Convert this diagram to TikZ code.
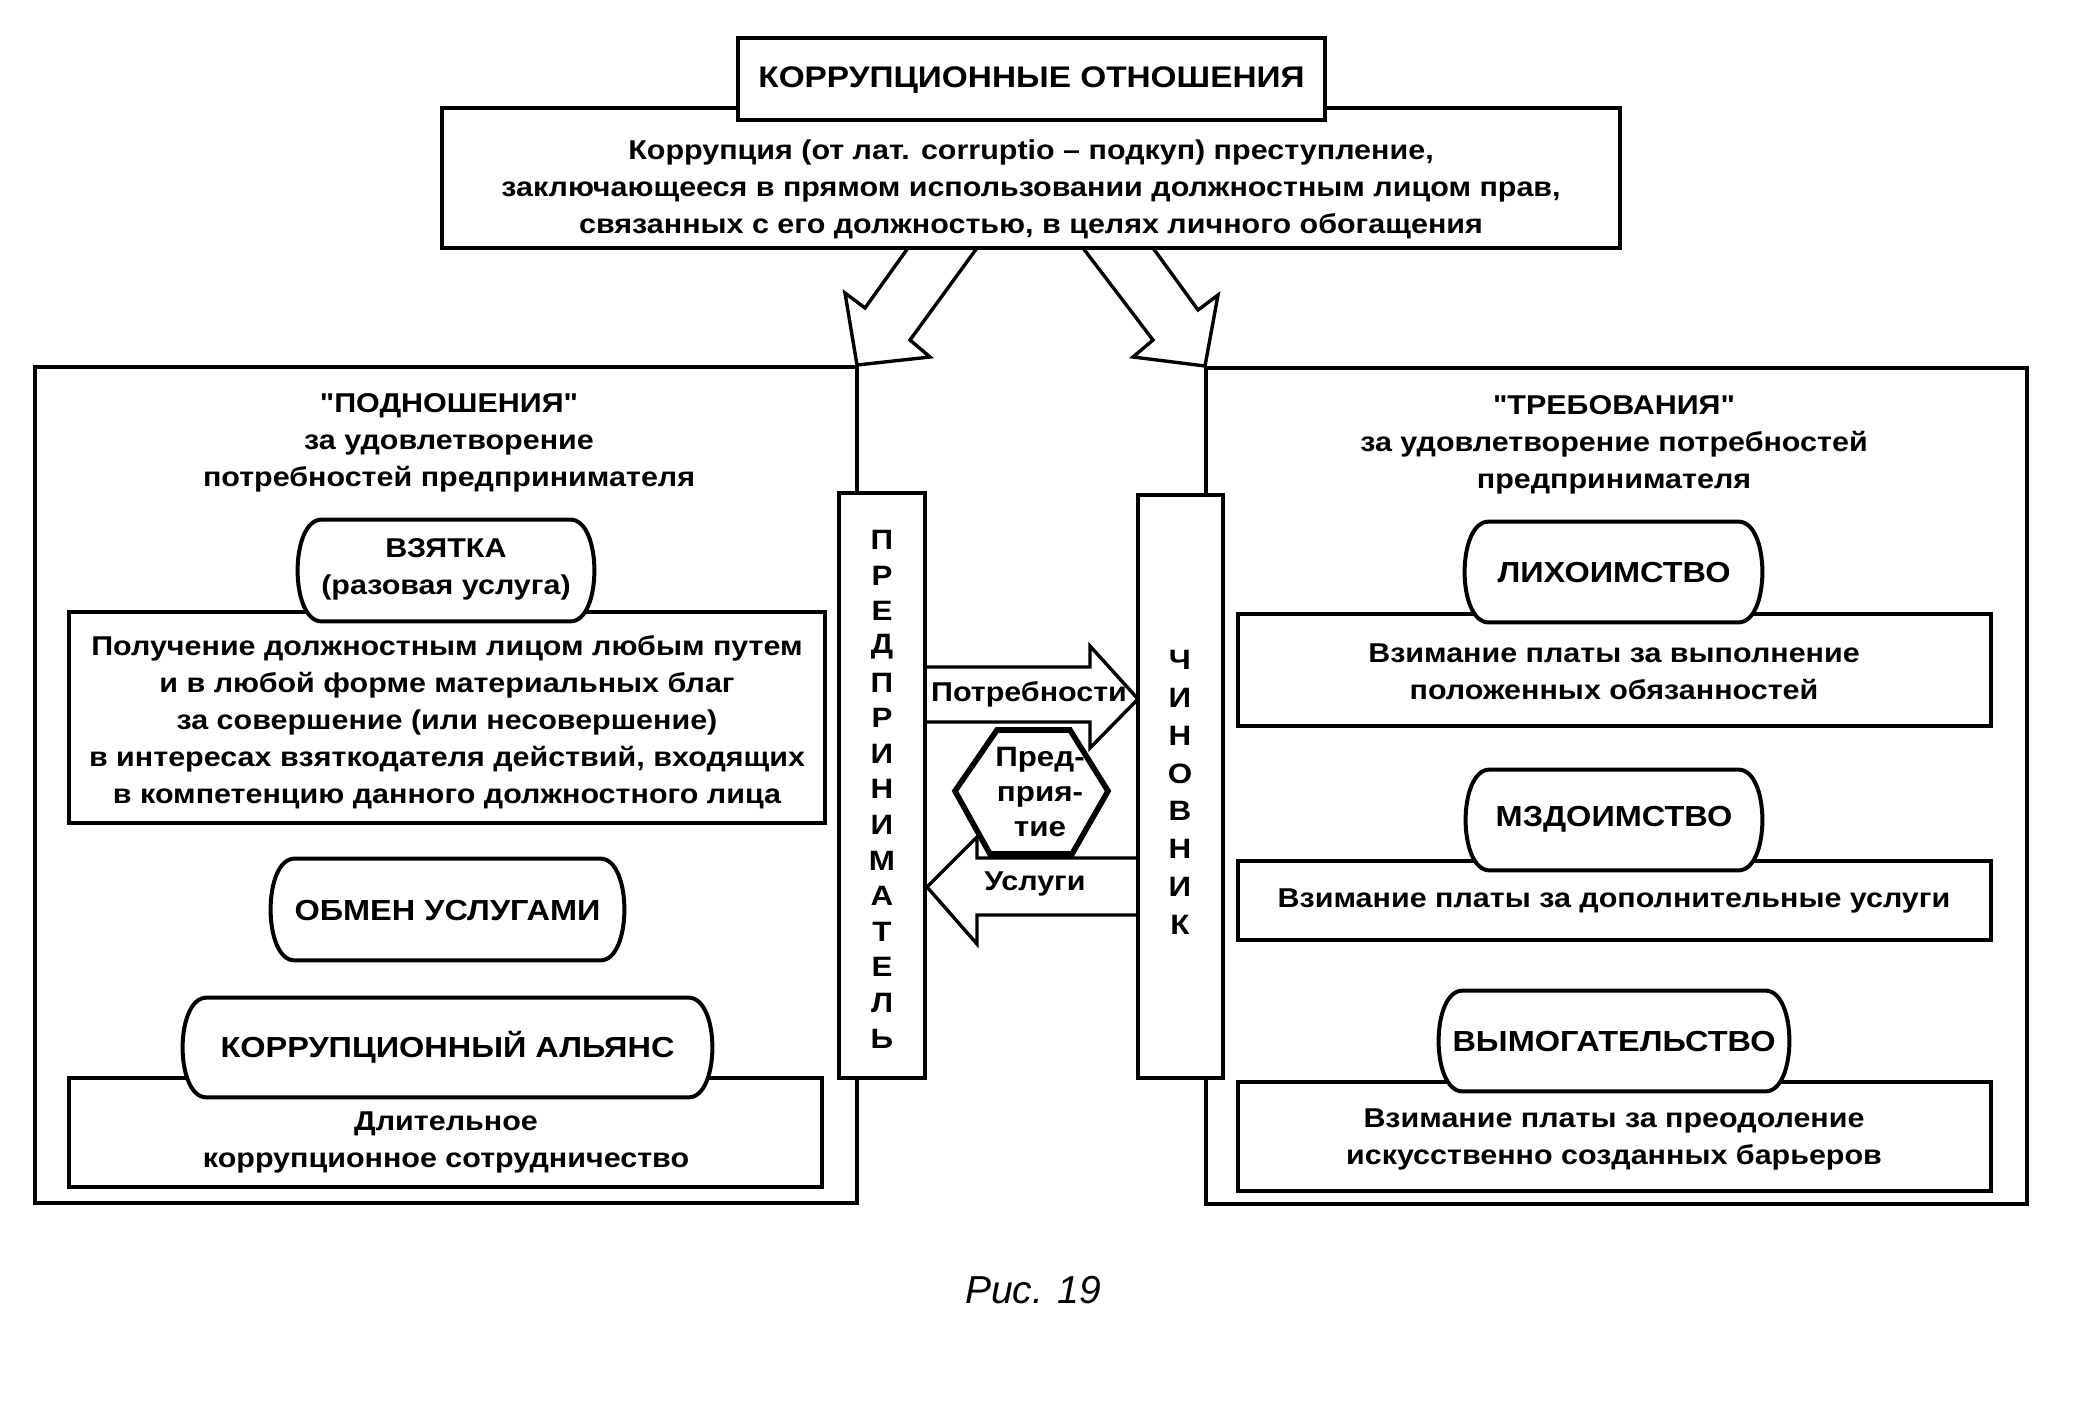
\documentclass[tikz,border=0pt]{standalone}
\usepackage{fontspec}
\setmainfont{Liberation Sans}
\newfontfamily\wf[FakeStretch=1.12]{Liberation Sans}
\newcommand\drawbarrel[1]{%
  \draw[line width=2pt, fill=white]
    ([xshift=12pt]#1.north west) -- ([xshift=-12pt]#1.north east)
    .. controls ([xshift=4pt]#1.north east) and ([xshift=4pt]#1.south east) .. ([xshift=-12pt]#1.south east)
    -- ([xshift=12pt]#1.south west)
    .. controls ([xshift=-4pt]#1.south west) and ([xshift=-4pt]#1.north west) .. cycle;}
\begin{document}
\begin{tikzpicture}[x=0.5pt,y=-0.5pt,
  box/.style={draw, line width=2pt, fill=white, inner sep=0pt},
  bnode/.style={inner sep=0pt},
  panel/.style={draw, line width=2pt, inner sep=0pt},
  arr/.style={draw, line width=1.7pt, line join=miter},
  txt/.style={font=\wf\bfseries\fontsize{13.6}{18.5}\selectfont, align=center, inner sep=0pt},
  capslabel/.style={font=\wf\bfseries\fontsize{14.5}{18.5}\selectfont, align=center, inner sep=0pt},
  vl/.style={font=\wf\bfseries\fontsize{14}{14}\selectfont, inner sep=0pt},
]
\fill[white] (0,0) rectangle (2087,1408);
\useasboundingbox (0,0) rectangle (2087,1408);

% top
\node[box, minimum width=589pt, minimum height=70pt] (def) at (1031,178) {};
\node[txt] (deft) at (1031,189) {Коррупция (от лат. corruptio – подкуп) преступление,\\заключающееся в прямом использовании должностным лицом прав,\\связанных с его должностью, в целях личного обогащения};
\node[box, minimum width=293.5pt, minimum height=41pt] (title) at (1031.5,79) {};
\node[txt, font=\wf\bfseries\fontsize{14.9}{16}\selectfont] (titlet) at (1031.5,80) {КОРРУПЦИОННЫЕ ОТНОШЕНИЯ};

% panels
\node[panel, minimum width=411pt, minimum height=418pt] (lp) at (446,785) {};
\node[panel, minimum width=410.5pt, minimum height=418pt] (rp) at (1616.5,786) {};

% arrows from definition
\draw[arr] (908,248) -- (865,308) -- (845,293) -- (857,365) -- (930,357) -- (910,340) -- (977,248);
\draw[arr] (1083,248) -- (1153,340) -- (1133,357) -- (1205,366) -- (1218,295) -- (1198,310) -- (1153,248);

% columns
\node[box, minimum width=43pt, minimum height=292.5pt] (pred) at (882,785.5) {};
\node[box, minimum width=42.5pt, minimum height=291.5pt] (chin) at (1180.5,786.5) {};
\foreach \l [count=\i from 0] in {П,Р,Е,Д,П,Р,И,Н,И,М,А,Т,Е,Л,Ь}
  \node[vl] (pl\i) at (882,540+35.6*\i) {\l};
\foreach \l [count=\i from 0] in {Ч,И,Н,О,В,Н,И,К}
  \node[vl] (cl\i) at (1180,660+37.8*\i) {\l};

% enterprise hexagon and exchange arrows
\draw[line width=2.8pt, fill=white, line join=miter] (955,791) -- (997,730) -- (1070,730) -- (1108,791) -- (1072,854) -- (990,854) -- cycle;
\draw[arr] (925,667) -- (1090,667) -- (1090,646) -- (1138,699) -- (1090,748) -- (1090,722) -- (925,722);
\draw[arr] (1138,858) -- (977,858) -- (977,837) -- (927,887) -- (977,944) -- (977,915) -- (1138,915);
\node[txt] (need) at (1029,694) {Потребности};
\node[txt] (serv) at (1035,884) {Услуги};
\node[txt, font=\wf\bfseries\fontsize{14}{17.5}\selectfont] (ent) at (1040,792) {Пред-\\прия-\\тие};

% left panel content
\node[txt] (lh) at (449,443) {"ПОДНОШЕНИЯ"\\за удовлетворение\\потребностей предпринимателя};
\node[box, minimum width=378pt, minimum height=105.5pt] (ld1) at (447,717.5) {};
\node[txt] (ld1t) at (447,722) {Получение должностным лицом любым путем\\и в любой форме материальных благ\\за совершение (или несовершение)\\в интересах взяткодателя действий, входящих\\в компетенцию данного должностного лица};
\node[bnode, minimum width=148pt, minimum height=50.5pt] (vz) at (446,570.5) {};
\drawbarrel{vz}
\node[txt] (vzt) at (446,569) {ВЗЯТКА\\(разовая услуга)};
\node[bnode, minimum width=176.5pt, minimum height=50.5pt] (ob) at (447.5,909.5) {};
\drawbarrel{ob}
\node[capslabel] (obt) at (447.5,911) {ОБМЕН УСЛУГАМИ};
\node[box, minimum width=376.5pt, minimum height=54.5pt] (ld2) at (445.5,1132.5) {};
\node[txt] (ld2t) at (446,1142) {Длительное\\коррупционное сотрудничество};
\node[bnode, minimum width=264.5pt, minimum height=49.5pt] (al) at (447.5,1047.5) {};
\drawbarrel{al}
\node[capslabel] (alt) at (447.5,1047) {КОРРУПЦИОННЫЙ АЛЬЯНС};

% right panel content
\node[txt] (rh) at (1614,445) {"ТРЕБОВАНИЯ"\\за удовлетворение потребностей\\предпринимателя};
\node[box, minimum width=376.5pt, minimum height=56pt] (rd1) at (1614.5,670) {};
\node[txt] (rd1t) at (1614,672) {Взимание платы за выполнение\\положенных обязанностей};
\node[bnode, minimum width=148.5pt, minimum height=50pt] (li) at (1613.5,572) {};
\drawbarrel{li}
\node[capslabel] (lit) at (1614,573) {ЛИХОИМСТВО};
\node[box, minimum width=376.5pt, minimum height=39.5pt] (rd2) at (1614.5,900.5) {};
\node[txt] (rd2t) at (1614,901) {Взимание платы за дополнительные услуги};
\node[bnode, minimum width=148pt, minimum height=50pt] (md) at (1614,820) {};
\drawbarrel{md}
\node[capslabel] (mdt) at (1614,819) {МЗДОИМСТВО};
\node[box, minimum width=376.5pt, minimum height=54.5pt] (rd3) at (1614.5,1136.5) {};
\node[txt] (rd3t) at (1614,1139) {Взимание платы за преодоление\\искусственно созданных барьеров};
\node[bnode, minimum width=175pt, minimum height=50pt] (vy) at (1614,1041) {};
\drawbarrel{vy}
\node[capslabel] (vyt) at (1614,1042) {ВЫМОГАТЕЛЬСТВО};

\node[font=\itshape\fontsize{19.5}{20}\selectfont, inner sep=0pt] (cap19) at (1033,1290) {Рис. 19};
\end{tikzpicture}
\end{document}
